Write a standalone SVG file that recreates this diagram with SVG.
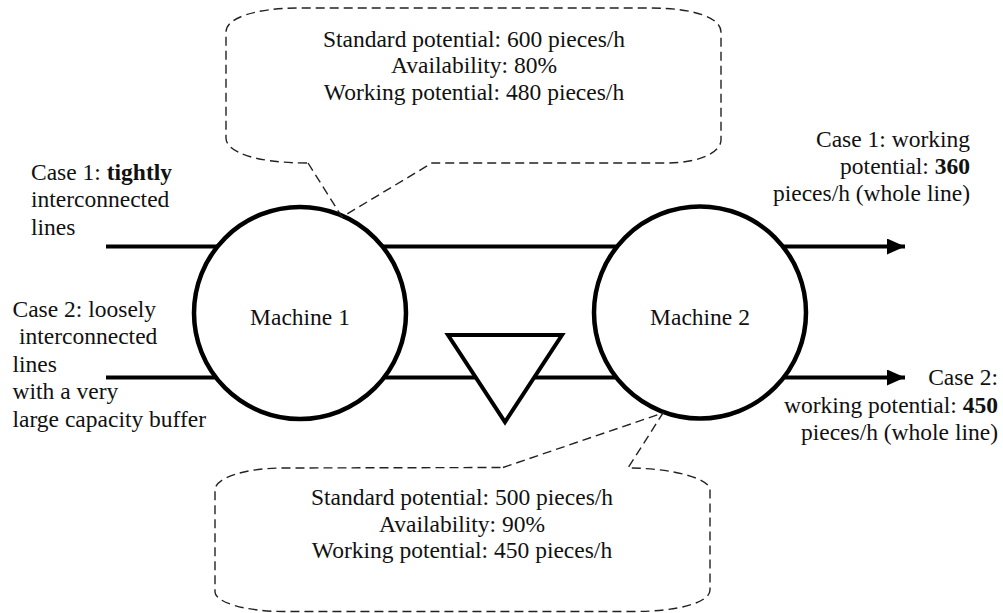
<svg xmlns="http://www.w3.org/2000/svg" width="1003" height="613" viewBox="0 0 1003 613">
<style>
text{font-family:"Liberation Serif","Times New Roman",serif;font-size:23.5px;fill:#111}
.c{text-anchor:middle}
.r{text-anchor:end}
.b{font-weight:bold}
.flow{stroke:#000;stroke-width:4;fill:none}
.shape{stroke:#000;stroke-width:4.5;fill:#fff}
.callout{stroke:#222;stroke-width:1.4;fill:none;stroke-dasharray:9 5}
</style>
<defs>
<marker id="ah" markerUnits="userSpaceOnUse" markerWidth="20" markerHeight="18" refX="18" refY="8" orient="auto">
<path d="M0,0 L18,8 L0,16 Z" fill="#000"/>
</marker>
</defs>
<rect width="1003" height="613" fill="#fff"/>
<g id="connectors">
<line class="flow" x1="106" y1="246.5" x2="905" y2="246.5" marker-end="url(#ah)"/>
<line class="flow" x1="106" y1="377.5" x2="905" y2="377.5" marker-end="url(#ah)"/>
</g>
<g id="machine1">
<circle class="shape" cx="300" cy="313" r="106"/>
<text class="c" x="300" y="325">Machine 1</text>
</g>
<g id="machine2">
<circle class="shape" cx="700" cy="312.5" r="106"/>
<text class="c" x="700" y="325">Machine 2</text>
</g>
<g id="buffer">
<polygon class="shape" style="stroke-width:4" points="448,335 562,335 505,422"/>
</g>
<g id="callout1">
<path class="callout" d="M308,163 L342,217 L432,163 L667,163 C700,163 721,152 721,140 L721,32 C721,18 695,8 650,8 L300,8 C255,8 226,18 226,32 L226,138 C226,152 255,163 308,163 Z"/>
<text class="c" x="474" y="46.5">Standard potential: 600 pieces/h</text>
<text class="c" x="474" y="73">Availability: 80%</text>
<text class="c" x="474" y="100">Working potential: 480 pieces/h</text>
</g>
<g id="callout2">
<path class="callout" d="M503,467.5 L663,413 L628,468 C670,468 710,478 710,490 L710,590 C710,602 680,611.5 633,611.5 L283,611.5 C245,611.5 215,602 215,592 L215,490 C215,478 245,468 283,468 Z"/>
<text class="c" x="462" y="505">Standard potential: 500 pieces/h</text>
<text class="c" x="462" y="531.5">Availability: 90%</text>
<text class="c" x="462" y="558">Working potential: 450 pieces/h</text>
</g>
<g id="label-case1-left">
<text x="31" y="180">Case 1: <tspan class="b">tightly</tspan></text>
<text x="31" y="207">interconnected</text>
<text x="31" y="234.5">lines</text>
</g>
<g id="label-case2-left">
<text x="12.5" y="316.5">Case 2: loosely</text>
<text x="19" y="344">interconnected</text>
<text x="12.5" y="371.5">lines</text>
<text x="12.5" y="399">with a very</text>
<text x="12.5" y="426.5">large capacity buffer</text>
</g>
<g id="label-case1-right">
<text class="r" x="970" y="147">Case 1: working</text>
<text class="r" x="970" y="174">potential: <tspan class="b">360</tspan></text>
<text class="r" x="970" y="200.5">pieces/h (whole line)</text>
</g>
<g id="label-case2-right">
<text class="r" x="998" y="385">Case 2:</text>
<text class="r" x="998" y="412.5">working potential: <tspan class="b">450</tspan></text>
<text class="r" x="998" y="439.5">pieces/h (whole line)</text>
</g>
</svg>
